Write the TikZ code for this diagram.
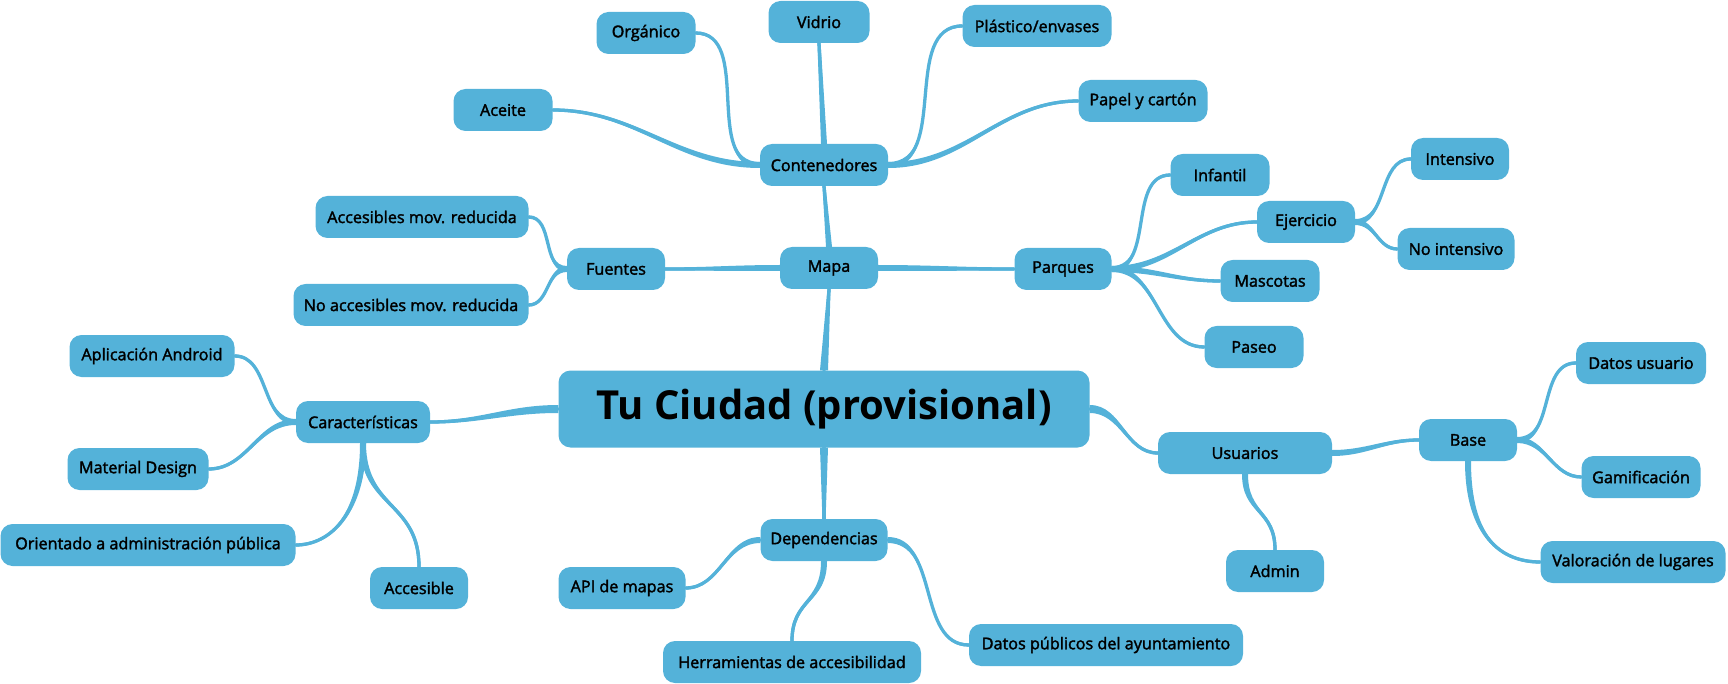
\documentclass[tikz,border=0pt]{standalone}
\usepackage{fontspec}
\setmainfont{Open Sans}
\newfontfamily\semib[FakeBold=2]{Open Sans}
\usetikzlibrary{backgrounds,calc}
\definecolor{mmblue}{RGB}{84,178,217}
\tikzset{
  topic/.style={fill=mmblue, rounded corners=12pt, minimum height=42pt, inner sep=0pt,
    text=black, font=\semib\fontsize{16.2}{19}\selectfont},
  link/.style={draw=mmblue, line width=3.3pt, line cap=round}
}
% tapered connector with horizontal tangents: #1 start, #2 end, #3 out, #4 in, #5 half width at start
\newcommand\tapH[5]{%
  \draw[link] (#1) to[out=#3,in=#4] (#2);
  \fill[mmblue] ($(#1)+(0,-#5)$) to[out=#3,in=#4] ($(#2)+(0,-1.6)$) -- ($(#2)+(0,1.6)$)
     to[out=#4,in=#3] ($(#1)+(0,#5)$) -- cycle;}
% tapered straight vertical connector
\newcommand\tapV[3]{%
  \draw[link] (#1) -- (#2);
  \fill[mmblue] ($(#1)+(-#3,0)$) -- ($(#2)+(-1.6,0)$) -- ($(#2)+(1.6,0)$) -- ($(#1)+(#3,0)$) -- cycle;}
% tapered vertical S connector: #1 start, #2 end, #3 control length, #4 half width
\newcommand\tapVS[4]{%
  \draw[link] (#1) .. controls +(0,#3) and +(0,-#3) .. (#2);
  \fill[mmblue] ($(#1)+(-#4,0)$) .. controls +(0,#3) and +(0,-#3) .. ($(#2)+(-1.6,0)$) -- ($(#2)+(1.6,0)$)
     .. controls +(0,-#3) and +(0,#3) .. ($(#1)+(#4,0)$) -- cycle;}
\begin{document}
\begin{tikzpicture}[x=1pt,y=-1pt]
\useasboundingbox (0,0) rectangle (1728,684);
\node[topic, minimum width=531pt, minimum height=77pt, font=\bfseries\fontsize{40}{46}\selectfont] (center) at (824,409) {Tu Ciudad (provisional)};
\node[topic, minimum width=98pt] (mapa) at (829,268) {Mapa};
\node[topic, minimum width=128pt] (cont) at (824,165) {Contenedores};
\node[topic, minimum width=101pt] (vidrio) at (819,22) {Vidrio};
\node[topic, minimum width=99pt] (organico) at (646,33) {Orgánico};
\node[topic, minimum width=149pt] (plastico) at (1037,26) {Plástico/envases};
\node[topic, minimum width=129pt] (papel) at (1143,101) {Papel y cartón};
\node[topic, minimum width=99pt] (aceite) at (503,110) {Aceite};
\node[topic, minimum width=98pt] (fuentes) at (616,269) {Fuentes};
\node[topic, minimum width=213pt] (acc) at (422,217) {Accesibles mov. reducida};
\node[topic, minimum width=235pt] (noacc) at (411,305) {No accesibles mov. reducida};
\node[topic, minimum width=97pt] (parques) at (1063,269) {Parques};
\node[topic, minimum width=99pt] (infantil) at (1220,175) {Infantil};
\node[topic, minimum width=98pt] (ejercicio) at (1306,222) {Ejercicio};
\node[topic, minimum width=98pt] (intensivo) at (1460,159) {Intensivo};
\node[topic, minimum width=117pt] (nointensivo) at (1456,249) {No intensivo};
\node[topic, minimum width=99pt] (mascotas) at (1270,281) {Mascotas};
\node[topic, minimum width=99pt] (paseo) at (1254,347) {Paseo};
\node[topic, minimum width=134pt] (caract) at (363,422) {Características};
\node[topic, minimum width=165pt] (android) at (152,356) {Aplicación Android};
\node[topic, minimum width=141pt] (material) at (138,469) {Material Design};
\node[topic, minimum width=295pt] (orientado) at (148,545) {Orientado a administración pública};
\node[topic, minimum width=98pt] (accesible) at (419,588) {Accesible};
\node[topic, minimum width=174pt] (usuarios) at (1245,453) {Usuarios};
\node[topic, minimum width=98pt] (admin) at (1275,571) {Admin};
\node[topic, minimum width=98pt] (base) at (1468,440) {Base};
\node[topic, minimum width=130pt] (datosu) at (1641,363) {Datos usuario};
\node[topic, minimum width=119pt] (gamif) at (1641,477) {Gamificación};
\node[topic, minimum width=185pt] (valor) at (1633,562) {Valoración de lugares};
\node[topic, minimum width=127pt] (depend) at (824,540) {Dependencias};
\node[topic, minimum width=127pt] (api) at (622,588) {API de mapas};
\node[topic, minimum width=258pt] (herr) at (792,662) {Herramientas de accesibilidad};
\node[topic, minimum width=274pt] (datosp) at (1106,645) {Datos públicos del ayuntamiento};
\begin{scope}[on background layer]
% from center
\tapV{center.north}{mapa.south}{4}
\tapV{center.south}{depend.north}{4}
\tapH{center.west}{caract.east}{180}{0}{4}
\tapH{center.east}{usuarios.west}{0}{180}{4}
% mapa
\tapV{mapa.north}{cont.south}{3}
\tapH{mapa.west}{fuentes.east}{180}{0}{3}
\tapH{mapa.east}{parques.west}{0}{180}{3}
% contenedores
\tapV{cont.north}{vidrio.south}{3}
\tapH{cont.west}{organico.east}{180}{0}{3}
\tapH{cont.west}{aceite.east}{180}{0}{3}
\tapH{cont.east}{plastico.west}{0}{180}{3}
\tapH{cont.east}{papel.west}{0}{180}{3}
% fuentes
\tapH{fuentes.west}{acc.east}{180}{0}{3}
\tapH{fuentes.west}{noacc.east}{180}{0}{3}
% parques
\tapH{parques.east}{infantil.west}{0}{180}{3}
\tapH{parques.east}{ejercicio.west}{0}{180}{3}
\tapH{parques.east}{mascotas.west}{0}{180}{3}
\tapH{parques.east}{paseo.west}{0}{180}{3}
\tapH{ejercicio.east}{intensivo.west}{0}{180}{3}
\tapH{ejercicio.east}{nointensivo.west}{0}{180}{3}
% caracteristicas
\tapH{caract.west}{android.east}{180}{0}{3}
\tapH{caract.west}{material.east}{180}{0}{3}
\draw[link] (caract.south) .. controls +(0,70) and +(35,0) .. (orientado.east);
\fill[mmblue] ($(caract.south)+(-3,0)$) .. controls +(0,70) and +(35,0) .. ($(orientado.east)+(0,-1.6)$)
  -- ($(orientado.east)+(0,1.6)$) .. controls +(35,0) and +(0,70) .. ($(caract.south)+(3,0)$) -- cycle;
\tapVS{caract.south}{accesible.north}{65}{3}
% usuarios
\tapVS{usuarios.south}{admin.north}{40}{3}
\tapH{usuarios.east}{base.west}{0}{180}{3}
\tapH{base.east}{datosu.west}{0}{180}{3}
\tapH{base.east}{gamif.west}{0}{180}{3}
\draw[link] (base.south) .. controls +(0,75) and +(-40,0) .. (valor.west);
\fill[mmblue] ($(base.south)+(3,0)$) .. controls +(0,75) and +(-40,0) .. ($(valor.west)+(0,-1.6)$)
  -- ($(valor.west)+(0,1.6)$) .. controls +(-40,0) and +(0,75) .. ($(base.south)+(-3,0)$) -- cycle;
% dependencias
\tapH{depend.west}{api.east}{180}{0}{3}
\tapVS{depend.south}{herr.north}{42}{3}
\tapH{depend.east}{datosp.west}{0}{180}{3}
\end{scope}
\end{tikzpicture}
\end{document}
